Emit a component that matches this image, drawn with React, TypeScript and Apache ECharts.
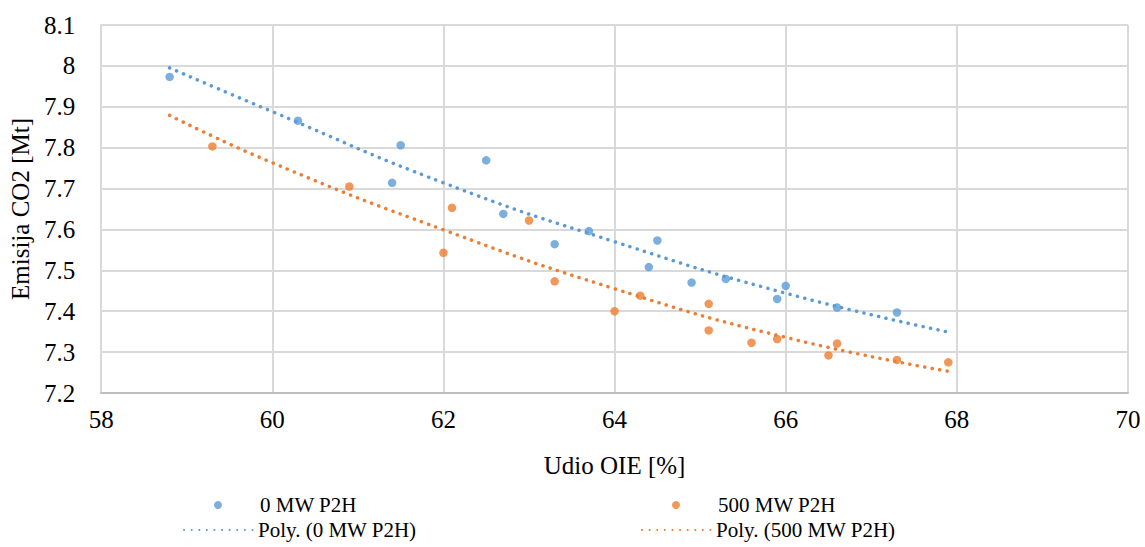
import React, { useEffect, useRef } from "react";
import * as echarts from "echarts";

const blueX = [58.8, 60.3, 61.5, 61.4, 62.5, 62.7, 63.3, 63.7, 64.5, 64.4, 64.9, 65.3, 66.0, 65.9, 66.6, 67.3];
const blueY = [7.973, 7.866, 7.806, 7.714, 7.769, 7.638, 7.564, 7.596, 7.573, 7.508, 7.47, 7.479, 7.462, 7.43, 7.409, 7.397];
const orangeX = [59.3, 60.9, 62.1, 62.0, 63.0, 63.3, 64.0, 64.3, 65.1, 65.1, 65.6, 65.9, 66.6, 66.5, 67.3, 67.9];
const orangeY = [7.803, 7.705, 7.653, 7.543, 7.622, 7.473, 7.4, 7.438, 7.418, 7.353, 7.323, 7.332, 7.321, 7.292, 7.281, 7.275];

const trendX = [58.8, 60, 62, 64, 66, 67.9];
const blueTrendY = [7.995, 7.888, 7.714, 7.57, 7.444, 7.349];
const orangeTrendY = [7.879, 7.763, 7.599, 7.455, 7.336, 7.253];

const seriesNames = ["0 MW P2H", "500 MW P2H", "Poly. (0 MW P2H)", "Poly. (500 MW P2H)"];
const xAxisTitle = "Udio OIE [%]";
const yAxisTitle = "Emisija CO2 [Mt]";

const BLUE = "#5B9BD5";
const ORANGE = "#ED7D31";
const FONT = "Times New Roman, Liberation Serif, serif";

const zip = (xs: number[], ys: number[]) => xs.map((x, i) => [x, ys[i]]);

export default function App() {
  const ref = useRef<HTMLDivElement>(null);
  useEffect(() => {
    if (!ref.current) return;
    const chart = echarts.init(ref.current, undefined, { renderer: "svg" });
    const textStyle = { fontFamily: FONT, fontSize: 25, color: "#000" };
    const legendText = { ...textStyle, fontSize: 21, lineHeight: 24 };
    const dotted = (color: string) => ({
      color,
      width: 3.5,
      type: [0.1, 7.5] as any,
      cap: "round" as const,
    });
    const scatterLegend = (name: string, left: number, color: string) => ({
      show: true,
      left,
      top: 493,
      padding: 0,
      selectedMode: false,
      itemWidth: 8,
      itemHeight: 8,
      itemGap: 0,
      textStyle: { ...legendText, padding: [0, 0, 0, 33] },
      data: [{ name, icon: "circle", itemStyle: { color } }],
    });
    const lineLegend = (name: string, left: number) => ({
      show: true,
      left,
      top: 518,
      padding: 0,
      selectedMode: false,
      itemWidth: 69,
      itemHeight: 14,
      itemGap: 0,
      itemStyle: { opacity: 0 },
      textStyle: { ...legendText },
      data: [{ name }],
    });
    chart.setOption({
      animation: false,
      backgroundColor: "#fff",
      textStyle: { fontFamily: FONT },
      grid: { left: 100, right: 17, top: 25, bottom: 154, containLabel: false },
      legend: [
        scatterLegend(seriesNames[0], 214, BLUE),
        scatterLegend(seriesNames[1], 672, ORANGE),
        lineLegend(seriesNames[2], 183),
        lineLegend(seriesNames[3], 641),
      ],
      xAxis: {
        type: "value",
        min: 58,
        max: 70,
        interval: 2,
        name: xAxisTitle,
        nameLocation: "middle",
        nameGap: 60,
        nameTextStyle: { ...textStyle },
        axisLine: { show: true, lineStyle: { color: "#bfbfbf", width: 2 } },
        axisTick: { show: false },
        axisLabel: { ...textStyle, margin: 14 },
        splitLine: { show: true, lineStyle: { color: "#d9d9d9", width: 2 } },
      },
      yAxis: {
        type: "value",
        min: 7.2,
        max: 8.1,
        interval: 0.1,
        name: yAxisTitle,
        nameLocation: "middle",
        nameGap: 64,
        nameRotate: 90,
        nameTextStyle: { ...textStyle },
        axisLine: { show: true, lineStyle: { color: "#d9d9d9", width: 2 } },
        axisTick: { show: false },
        axisLabel: {
          ...textStyle,
          margin: 26,
          formatter: (v: number) => String(Math.round(v * 10) / 10),
        },
        splitLine: { show: true, lineStyle: { color: "#d9d9d9", width: 2 } },
      },
      series: [
        {
          name: seriesNames[0],
          type: "scatter",
          data: zip(blueX, blueY),
          symbol: "circle",
          symbolSize: 8.5,
          itemStyle: { color: BLUE },
          z: 3,
        },
        {
          name: seriesNames[1],
          type: "scatter",
          data: zip(orangeX, orangeY),
          symbol: "circle",
          symbolSize: 8.5,
          itemStyle: { color: ORANGE },
          z: 3,
        },
        {
          name: seriesNames[2],
          type: "line",
          data: zip(trendX, blueTrendY),
          smooth: true,
          showSymbol: false,
          symbol: "none",
          itemStyle: { color: BLUE },
          lineStyle: dotted(BLUE),
          z: 2,
        },
        {
          name: seriesNames[3],
          type: "line",
          data: zip(trendX, orangeTrendY),
          smooth: true,
          showSymbol: false,
          symbol: "none",
          itemStyle: { color: ORANGE },
          lineStyle: dotted(ORANGE),
          z: 2,
        },
      ],
    });
    return () => chart.dispose();
  }, []);
  return (
    <div
      ref={ref}
      style={{ position: "fixed", left: 0, top: 0, width: 1145, height: 547, background: "#fff" }}
    />
  );
}
